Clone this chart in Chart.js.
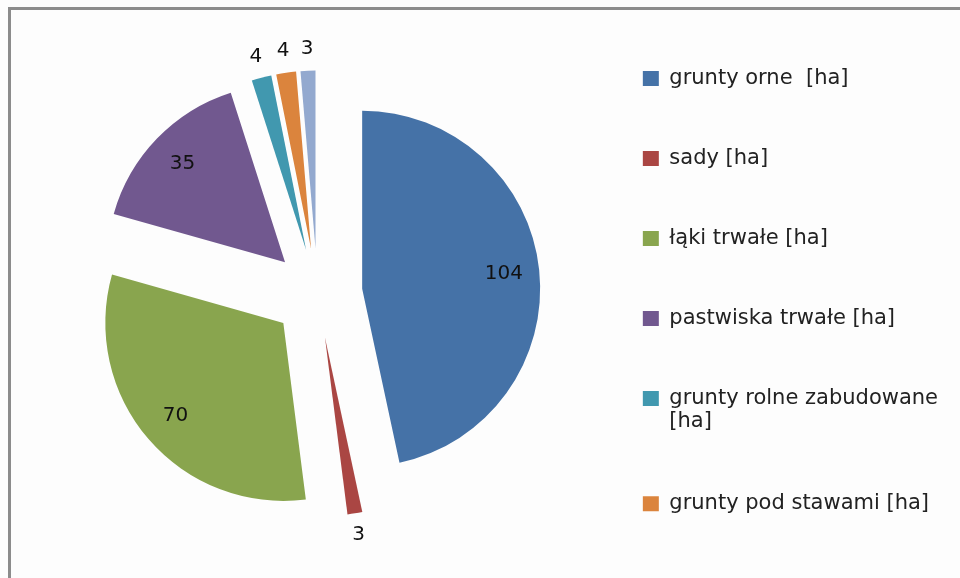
<!DOCTYPE html>
<html>
<head>
<meta charset="utf-8">
<script src="https://cdn.jsdelivr.net/npm/chart.js@4/dist/chart.umd.min.js"></script>
<style>
  html, body { margin: 0; padding: 0; background: #fdfdfd; }
  #wrap { position: relative; width: 960px; height: 578px; overflow: hidden; }
  #frame {
    position: absolute; left: 8px; top: 7px; width: 1000px; height: 700px;
    border-top: 3px solid #8c8c8c; border-left: 3px solid #8c8c8c;
  }
  #myChart { position: absolute; left: 0; top: 0; }
</style>
</head>
<body>
<div id="wrap">
  <div id="frame"></div>
  <canvas id="myChart" width="960" height="578"></canvas>
</div>
<script>
(()=>{
    const labels = [
        'grunty orne  [ha]',
        'sady [ha]',
        'łąki trwałe [ha]',
        'pastwiska trwałe [ha]',
        ['grunty rolne zabudowane', '[ha]'],
        'grunty pod stawami [ha]',
        'pozostałe [ha]'
    ];
    const values = [104, 3, 70, 35, 4, 4, 3];
    const colors = ['#4572A7', '#AA4643', '#89A54E', '#71588F', '#4198AF', '#DB843D', '#93A9CF'];

    const EXPLODE = 45;   // how far every slice is pulled out
    const FONT = 'DejaVu Sans';

    // move each arc's centre out along its mid angle (exploded pie)
    const explode = {
        id: 'explode',
        afterDatasetUpdate(chart, args) {
            args.meta.data.forEach(arc => {
                const mid = (arc.startAngle + arc.endAngle) / 2;
                arc.x += Math.cos(mid) * EXPLODE;
                arc.y += Math.sin(mid) * EXPLODE;
            });
        }
    };

    // value labels: inside big slices, just outside the small ones
    const valueLabels = {
        id: 'valueLabels',
        afterDatasetsDraw(chart) {
            const c = chart.ctx;
            const meta = chart.getDatasetMeta(0);
            c.save();
            c.font = '20px "' + FONT + '"';
            c.fillStyle = '#111';
            c.textAlign = 'center';
            c.textBaseline = 'middle';
            meta.data.forEach((arc, i) => {
                const v = values[i];
                const mid = (arc.startAngle + arc.endAngle) / 2;
                const d = v >= 10 ? arc.outerRadius * 0.8 : arc.outerRadius + 22;
                c.fillText(String(v), arc.x + Math.cos(mid) * d, arc.y + Math.sin(mid) * d);
            });
            c.restore();
        }
    };

    new Chart(document.getElementById('myChart'), {
        type: 'pie',
        data: {
            labels: labels,
            datasets: [{
                data: values,
                backgroundColor: colors,
                borderWidth: 0,
                radius: 178
            }]
        },
        options: {
            responsive: false,
            animation: false,
            layout: {
                padding: { left: 51, right: 12, top: 9, bottom: 0 }
            },
            plugins: {
                tooltip: { enabled: false },
                legend: {
                    position: 'right',
                    align: 'start',
                    labels: {
                        // last entry is cut off in the original
                        filter: (item) => item.index < 6,
                        boxWidth: 16,
                        boxHeight: 15,
                        padding: 59,
                        color: '#222',
                        font: { family: FONT, size: 21, lineHeight: 1.1 }
                    }
                }
            }
        },
        plugins: [explode, valueLabels]
    });
})()
</script>
</body>
</html>
